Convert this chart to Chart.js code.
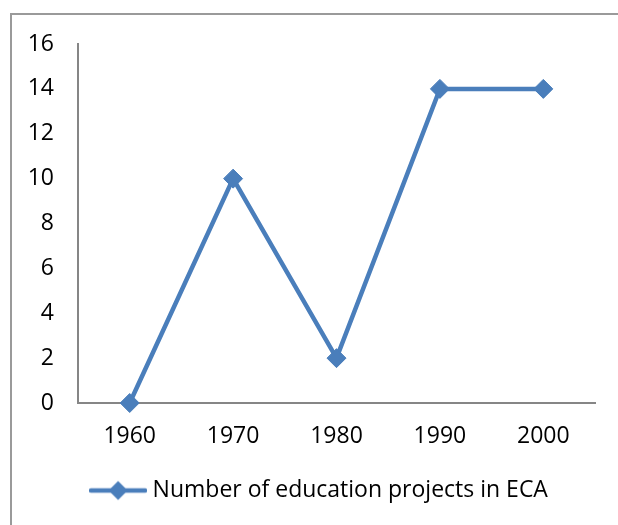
<!DOCTYPE html>
<html><head><meta charset="utf-8">
<script src="https://cdn.jsdelivr.net/npm/chart.js@4"></script>
<style>
html,body{margin:0;padding:0;background:#fff;}
#frame{position:absolute;left:10px;top:13px;width:608px;height:512px;border-top:2px solid #9a9a9a;border-left:2px solid #9a9a9a;}
#wrap{position:absolute;left:0;top:0;width:618px;height:525px;}
</style></head>
<body>
<div id="frame"></div>
<div id="wrap"><canvas id="c" width="618" height="525"></canvas></div>
<script>
const categories = ['1960','1970','1980','1990','2000'];
const projects = [0, 10, 2, 14, 14];
const seriesName = 'Number of education projects in ECA';
const yTicks = {min: 0, max: 16, step: 2};

const blue = '#4a7ebb';
const FONT = {family: '"Open Sans", "Liberation Sans", sans-serif', size: 23};

// legend symbol: line with diamond
const sym = document.createElement('canvas');
sym.width = 58; sym.height = 22;
(function(){
  const g = sym.getContext('2d');
  g.strokeStyle = blue; g.lineWidth = 4.5; g.lineCap = 'round';
  g.beginPath(); g.moveTo(2, 11); g.lineTo(56, 11); g.stroke();
  g.fillStyle = blue;
  g.beginPath(); g.moveTo(29, 1.5); g.lineTo(38.5, 11); g.lineTo(29, 20.5); g.lineTo(19.5, 11); g.closePath(); g.fill();
})();

const shiftLegend = {
  id: 'shiftLegend',
  afterLayout(chart) {
    const lg = chart.legend;
    if (lg) { lg.left += 24; lg.right += 24; }
  }
};

new Chart(document.getElementById('c'), {
  type: 'line',
  data: {
    labels: categories,
    datasets: [{
      label: seriesName,
      data: projects,
      borderColor: blue,
      backgroundColor: blue,
      borderWidth: 4.5,
      pointStyle: 'rectRot',
      pointRadius: 9.5,
      pointHoverRadius: 9.5,
      pointBorderWidth: 1,
      pointBackgroundColor: blue,
      pointBorderColor: blue,
      tension: 0,
      clip: false
    }]
  },
  plugins: [shiftLegend],
  options: {
    responsive: false,
    animation: false,
    layout: {padding: {left: 0, right: 23, top: 44, bottom: 13}},
    plugins: {
      tooltip: {enabled: false},
      legend: {
        position: 'bottom',
        labels: {
          usePointStyle: true,
          pointStyle: sym,
          pointStyleWidth: 46,
          boxHeight: 20,
          padding: 8,
          color: '#000',
          font: FONT
        }
      }
    },
    scales: {
      x: {
        offset: true,
        grid: {display: false, drawTicks: false, offset: true},
        border: {display: true, color: '#868686', width: 2},
        ticks: {color: '#000', font: FONT, padding: 20, maxRotation: 0},
        afterFit: s => { s.height = 68; }
      },
      y: {
        min: yTicks.min, max: yTicks.max,
        grid: {display: false, drawTicks: false},
        border: {display: true, color: '#868686', width: 2},
        ticks: {stepSize: yTicks.step, color: '#000', font: FONT, padding: 24},
        afterFit: s => { s.width = 78; }
      }
    }
  }
});
</script>
</body></html>
